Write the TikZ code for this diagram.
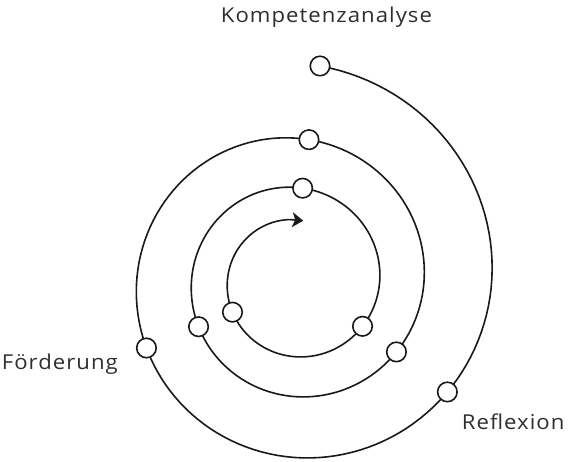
\documentclass[tikz,border=0pt]{standalone}
\usepackage{fontspec}
\usetikzlibrary{arrows.meta}
\newfontfamily\phasefont[LetterSpace=5, FakeStretch=1.08]{Open Sans}

\begin{document}
\begin{tikzpicture}[x=1pt, y=1pt,
		stage/.style={circle, draw=black!90, fill=white, line width=1.6pt, minimum size=19.5pt, inner sep=0pt},
		phase/.style={font=\phasefont\fontsize{20.5}{24}\selectfont, text=black!82, inner sep=0pt, anchor=base west},
		spiral/.style={line width=1.6pt, draw=black!90, line cap=round}]
	\useasboundingbox (0,0) rectangle (569,461);
	\begin{scope}[shift={(295.5,180)}]
		% Spiral
		\draw[spiral] plot[domain=83.5:-985, samples=400] ({\x}:{196.2*exp(0.0011753*\x)});
		\coordinate (tail) at (-985:{196.2*exp(0.0011753*(-985))});
		\coordinate (tip) at (-997.3:{196.2*exp(0.0011753*(-997.3))});
		\draw[spiral, -{Stealth[length=11pt, width=15pt, inset=3pt]}] (tail) -- (tip);
		% Nodes
		\foreach \k in {0,...,8} {
			\pgfmathsetmacro{\a}{83.5-119.65*\k}
			\pgfmathsetmacro{\r}{196.2*exp(0.0011753*\a)}
			\node[stage] (s\k) at (\a:\r) {};
		}
	\end{scope}
	\node[phase] (kompetenz) at (220.7,438.3) {Kompetenzanalyse};
	\node[phase] (foerderung) at (1.7,91.7) {Förderung};
	\node[phase] (reflexion) at (461.7,32) {Reflexion};
\end{tikzpicture}
\end{document}
